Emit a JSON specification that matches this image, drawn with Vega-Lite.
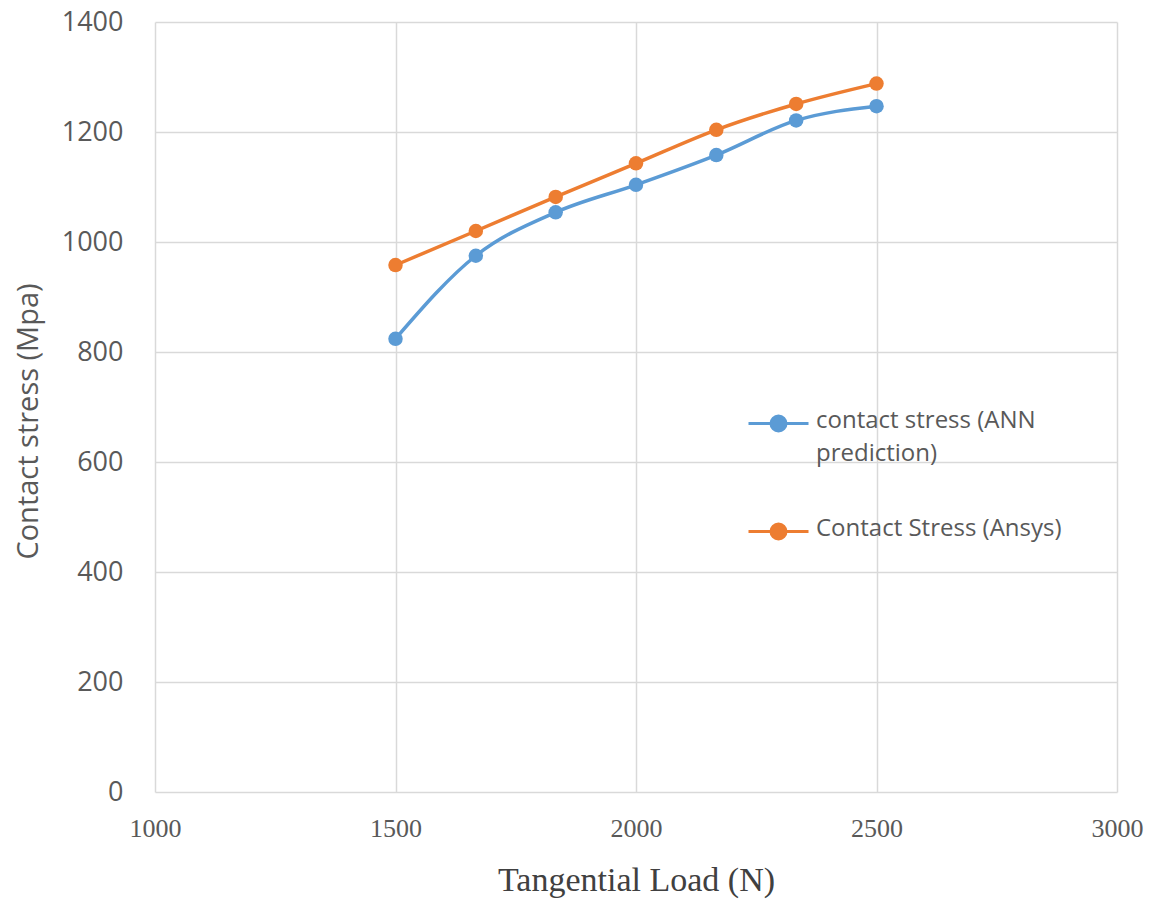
{
  "$schema": "https://vega.github.io/schema/vega-lite/v6.json",
  "width": 962,
  "height": 770,
  "autosize": {"type": "none"},
  "padding": {"left": 155, "top": 22, "right": 38, "bottom": 119},
  "background": "white",
  "config": {"view": {"stroke": null}},
  "data": {
    "values": [
      {"load": 1500, "stress": 824, "series": "contact stress (ANN prediction)"},
      {"load": 1667, "stress": 975, "series": "contact stress (ANN prediction)"},
      {"load": 1833, "stress": 1054, "series": "contact stress (ANN prediction)"},
      {"load": 2000, "stress": 1104, "series": "contact stress (ANN prediction)"},
      {"load": 2167, "stress": 1158, "series": "contact stress (ANN prediction)"},
      {"load": 2333, "stress": 1221, "series": "contact stress (ANN prediction)"},
      {"load": 2500, "stress": 1247, "series": "contact stress (ANN prediction)"},
      {"load": 1500, "stress": 958, "series": "Contact Stress (Ansys)"},
      {"load": 1667, "stress": 1020, "series": "Contact Stress (Ansys)"},
      {"load": 1833, "stress": 1082, "series": "Contact Stress (Ansys)"},
      {"load": 2000, "stress": 1143, "series": "Contact Stress (Ansys)"},
      {"load": 2167, "stress": 1204, "series": "Contact Stress (Ansys)"},
      {"load": 2333, "stress": 1251, "series": "Contact Stress (Ansys)"},
      {"load": 2500, "stress": 1288, "series": "Contact Stress (Ansys)"}
    ]
  },
  "encoding": {
    "x": {
      "field": "load", "type": "quantitative",
      "scale": {"domain": [1000, 3000], "nice": false},
      "axis": {
        "values": [1000, 1500, 2000, 2500, 3000],
        "format": "d",
        "title": "Tangential Load (N)",
        "titleFont": "Liberation Serif", "titleFontSize": 34, "titleFontWeight": "normal", "titleColor": "#404040",
        "titlePadding": 22,
        "labelFont": "Liberation Serif", "labelFontSize": 26, "labelColor": "#595959", "labelPadding": 23,
        "domain": false, "ticks": false,
        "grid": true, "gridColor": "#d9d9d9", "gridWidth": 1.5,
        "labelFlush": false
      }
    },
    "y": {
      "field": "stress", "type": "quantitative",
      "scale": {"domain": [0, 1400], "nice": false},
      "axis": {
        "values": [0, 200, 400, 600, 800, 1000, 1200, 1400],
        "format": "d",
        "title": "Contact stress (Mpa)",
        "titleFont": "Open Sans", "titleFontSize": 29, "titleFontWeight": "normal", "titleColor": "#595959",
        "titlePadding": 18,
        "titleY": 399,
        "labelFont": "Open Sans", "labelFontSize": 27, "labelColor": "#595959", "labelPadding": 32,
        "domain": false, "ticks": false,
        "grid": true, "gridColor": "#d9d9d9", "gridWidth": 1.5
      }
    },
    "color": {
      "field": "series", "type": "nominal",
      "scale": {
        "domain": ["contact stress (ANN prediction)", "Contact Stress (Ansys)"],
        "range": ["#5B9BD5", "#ED7D31"]
      },
      "legend": {
        "title": null,
        "orient": "none",
        "legendX": 592,
        "legendY": 370,
        "symbolType": "M-1,0H1M-0.25,0A0.25,0.25 0 1,1 0.25,0A0.25,0.25 0 1,1 -0.25,0Z",
        "symbolSize": 3600,
        "symbolStrokeWidth": 3,
        "labelFont": "Open Sans", "labelFontSize": 24, "labelColor": "#595959",
        "labelLimit": 400,
        "labelOffset": 6,
        "rowPadding": 34,
        "labelExpr": "datum.label == 'contact stress (ANN prediction)' ? ['contact stress (ANN', 'prediction)'] : datum.label",
        "encode": {
          "symbols": {"update": {
            "fill": {"scale": "color", "field": "value"},
            "stroke": {"scale": "color", "field": "value"},
            "fillOpacity": {"value": 1}
          }},
          "labels": {"update": {"baseline": {"value": "top"}, "dy": {"value": -15}, "lineHeight": {"value": 33}}}
        }
      }
    }
  },
  "layer": [
    {"mark": {"type": "line", "strokeWidth": 3.5, "interpolate": "monotone"}},
    {"mark": {"type": "point", "filled": true, "size": 210, "opacity": 1}}
  ]
}
